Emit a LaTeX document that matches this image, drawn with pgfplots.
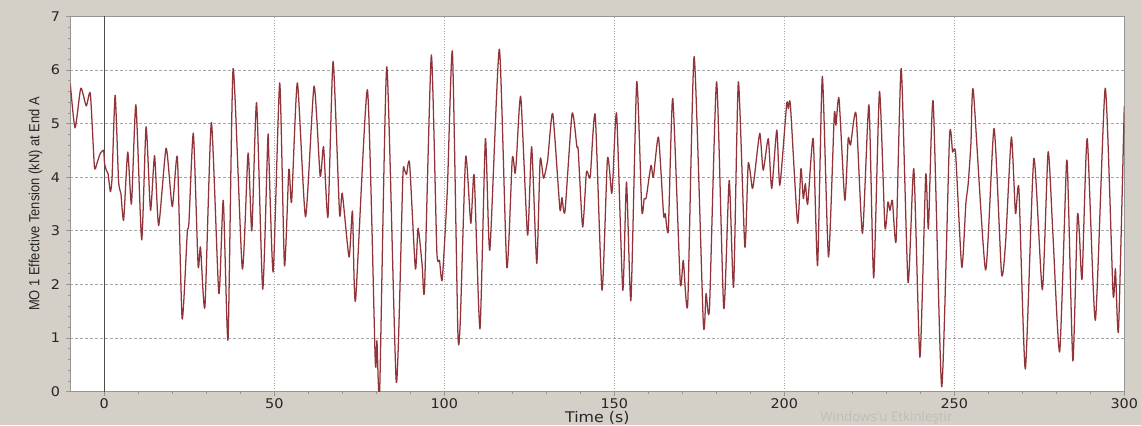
\documentclass[border=0pt]{standalone}
\usepackage{fontspec}
\usepackage{pgfplots}
\usepackage{pgfplotstable}
\pgfplotsset{compat=1.18}

\newfontfamily\tickfont{DejaVu Sans}[FakeStretch=1.08]
\newfontfamily\labfont{Liberation Sans}[FakeStretch=0.88]
\newfontfamily\wmfont{Open Sans}

\definecolor{panel}{RGB}{212,208,200}
\definecolor{trace}{RGB}{145,52,58}
\definecolor{gridc}{RGB}{165,165,165}
\definecolor{framec}{RGB}{150,150,150}
\definecolor{wmark}{RGB}{192,189,183}

% effective tension at end A of line MO 1 (kN) against simulation time (s)
\pgfplotstableread{
t T
-10.0 5.75
-8.6 4.92
-6.9 5.66
-5.3 5.33
-4.1 5.56
-2.9 4.20
-2.2 4.25
-1.2 4.44
-0.2 4.50
0.1 4.25
0.6 4.13
1.1 4.07
1.8 3.73
2.3 4.00
3.2 5.53
4.2 3.94
4.9 3.69
5.7 3.20
6.9 4.47
8.0 3.50
9.3 5.35
11.0 2.83
12.3 4.94
13.6 3.38
14.8 4.40
16.0 3.10
18.2 4.54
20.0 3.45
21.5 4.37
22.9 1.36
24.4 2.95
24.9 3.15
26.2 4.82
27.6 2.35
28.3 2.70
29.6 1.58
31.5 5.02
33.7 1.83
35.0 3.57
36.4 0.97
37.9 6.03
40.6 2.29
42.3 4.45
43.4 3.00
44.8 5.39
46.6 1.91
48.1 4.72
48.4 4.40
49.7 2.23
51.6 5.76
53.0 2.35
54.3 4.15
55.1 3.54
56.8 5.76
59.2 3.26
61.7 5.70
63.5 4.02
64.5 4.57
65.8 3.26
67.3 6.16
69.2 3.32
70.0 3.70
72.0 2.51
73.0 3.37
73.9 1.70
77.4 5.63
79.7 0.58
80.2 0.95
81.0 0.02
83.1 6.06
85.9 0.17
87.8 3.98
88.3 4.13
88.9 4.05
89.8 4.26
91.5 2.29
92.3 3.05
93.5 2.36
94.2 1.92
96.2 6.28
97.8 2.64
98.6 2.45
99.4 2.09
100.9 3.76
102.4 6.34
104.0 1.11
104.7 1.30
106.3 4.38
107.8 3.14
108.8 4.03
110.5 1.17
112.1 4.72
113.4 2.64
116.2 6.39
118.4 2.32
120.0 4.35
120.8 4.07
121.2 4.30
122.5 5.50
124.5 2.92
125.7 4.57
127.2 2.39
128.2 4.33
129.2 3.98
130.4 4.32
131.9 5.19
134.0 3.41
134.6 3.62
135.5 3.36
137.6 5.19
139.0 4.57
139.4 4.50
140.7 3.07
141.8 4.09
142.6 4.00
143.0 4.05
144.4 5.16
146.4 1.89
148.0 4.35
149.2 3.70
149.6 3.98
150.7 5.18
152.5 1.89
153.6 3.91
154.9 1.70
156.6 5.78
158.1 3.38
158.8 3.60
159.4 3.62
160.8 4.22
161.5 4.00
163.0 4.75
164.5 3.30
165.0 3.32
165.9 3.01
167.2 5.47
169.4 2.04
170.3 2.45
171.6 1.63
173.5 6.25
176.2 1.26
177.0 1.83
178.0 1.55
180.1 5.78
182.2 1.55
183.8 3.94
185.1 1.95
186.5 5.78
188.4 2.70
189.4 4.26
190.6 3.79
191.2 4.00
192.8 4.82
193.8 4.13
195.3 4.72
196.3 3.79
197.8 4.88
198.7 3.85
200.7 5.36
201.2 5.28
201.8 5.35
203.9 3.15
204.9 4.16
205.6 3.60
206.2 3.88
206.9 3.50
208.5 4.72
209.8 2.35
211.2 5.88
213.0 2.51
214.7 5.16
215.2 4.97
216.1 5.47
217.8 3.57
218.8 4.72
219.5 4.60
221.1 5.19
223.0 2.95
224.9 5.35
226.3 2.12
228.0 5.60
229.6 3.07
230.5 3.54
231.1 3.38
231.8 3.57
232.9 2.82
234.4 6.03
236.4 2.04
238.1 4.16
239.9 0.64
241.6 4.04
242.4 3.04
243.8 5.41
246.3 0.09
248.6 4.75
249.5 4.47
250.4 4.44
252.2 2.32
253.4 3.50
254.1 3.88
254.9 4.63
255.6 5.62
259.2 2.27
261.7 4.91
263.9 2.20
265.1 2.79
266.8 4.75
268.0 3.32
269.0 3.79
270.9 0.42
273.4 4.35
275.9 1.90
277.6 4.47
279.0 2.95
281.0 0.74
283.0 4.26
283.6 3.50
284.9 0.57
286.2 3.26
286.8 2.95
287.6 2.11
289.1 4.72
291.5 1.33
294.4 5.66
296.7 1.83
297.4 2.29
298.3 1.14
300.0 5.32
}\tensiontable

\begin{document}
\begin{tikzpicture}
\path[use as bounding box] (0,0) rectangle (855.75pt,318.75pt);
\fill[panel] (0,0) rectangle (855.75pt,318.75pt);
\node[anchor=base west, inner sep=0pt, text=wmark,
      font=\wmfont\fontsize{10}{12}\selectfont] at (615pt,2.6pt) {Windows'u Etkinleştir};
\begin{axis}[
  at={(52.7pt,25.05pt)}, anchor=south west,
  scale only axis, width=790.5pt, height=281.4pt,
  xmin=-10, xmax=300, ymin=0, ymax=7,
  xtick={0,50,...,300}, ytick={0,1,...,7},
  minor x tick num=4, minor y tick num=4,
  tick pos=left, tick align=outside,
  major tick length=3pt, minor tick length=1.8pt,
  every tick/.style={framec, line width=0.5pt},
  axis background/.style={fill=white},
  axis line style={framec, line width=0.6pt},
  xmajorgrids, ymajorgrids,
  x grid style={gridc, line width=0.5pt, dash pattern=on 0.8pt off 1.2pt},
  y grid style={gridc, line width=0.5pt, dash pattern=on 2.2pt off 1.5pt},
  /pgf/number format/assume math mode=true,
  tick label style={font=\tickfont\fontsize{10}{11}\selectfont, text=black!85},
  xticklabel style={anchor=north, inner sep=0pt, yshift=-2.2pt},
  yticklabel style={anchor=east, inner sep=0pt, xshift=-4.5pt},
  xlabel={Time (s)},
  ylabel={MO 1 Effective Tension (kN) at End A},
  every axis x label/.style={at={(axis description cs:0.5,-0.0827)}, anchor=base,
    font=\tickfont\fontsize{11}{12}\selectfont, text=black!85},
  every axis y label/.style={at={(axis description cs:-0.033,0.5)}, rotate=90, anchor=center,
    font=\labfont\fontsize{11}{13}\selectfont, text=black!85},
]
\draw[black!70, line width=0.9pt] (axis cs:0,0) -- (axis cs:0,7);
\addplot[trace, line width=0.95pt, smooth, tension=0.35, line join=round] table[x=t, y=T] {\tensiontable};
\end{axis}
\end{tikzpicture}
\end{document}
